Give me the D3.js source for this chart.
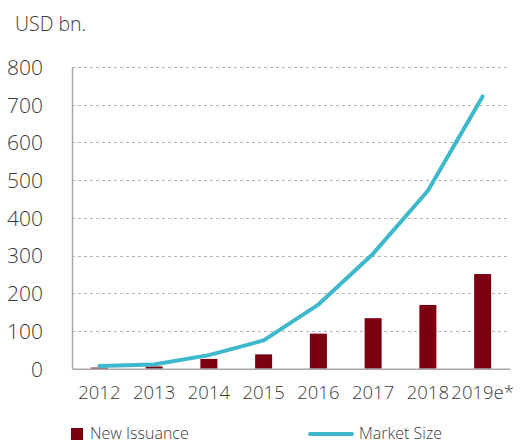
<!DOCTYPE html>
<html>
<head>
<meta charset="utf-8">
<script src="https://cdn.jsdelivr.net/npm/d3@7"></script>
<style>
  body { margin: 0; background: #fff; }
  svg text { font-family: "Open Sans", sans-serif; font-weight: 300; fill: #3a3a3a; }
</style>
</head>
<body>
<div id="chart"></div>
<script>
const years = ["2012", "2013", "2014", "2015", "2016", "2017", "2018", "2019e*"];
const newIssuance = [3, 6, 26, 38, 93, 134, 169, 251];
const marketSize = [7, 11, 36, 75, 170, 305, 472, 722];
const yTicks = [0, 100, 200, 300, 400, 500, 600, 700, 800];

const width = 520, height = 443;
const margin = { top: 67, right: 10, bottom: 74, left: 72 };

const svg = d3.select("#chart")
  .append("svg")
  .attr("width", width)
  .attr("height", height);

const x = d3.scaleBand()
  .domain(years)
  .range([margin.left, width - margin.right]);

const y = d3.scaleLinear()
  .domain([0, 800])
  .range([height - margin.bottom - 0.3, margin.top]);

// gridlines
svg.append("g")
  .selectAll("line")
  .data(yTicks.filter(d => d > 0))
  .join("line")
  .attr("x1", margin.left)
  .attr("x2", width - margin.right)
  .attr("y1", d => Math.round(y(d)) + 0.5)
  .attr("y2", d => Math.round(y(d)) + 0.5)
  .attr("stroke", "#b5b5b5")
  .attr("stroke-dasharray", "3,3");

// bars
const barW = 17;
svg.append("g")
  .selectAll("rect")
  .data(years)
  .join("rect")
  .attr("x", (d) => x(d) + x.bandwidth() / 2 - barW / 2)
  .attr("y", (d, i) => y(newIssuance[i]))
  .attr("width", barW)
  .attr("height", (d, i) => y(0) - y(newIssuance[i]))
  .attr("fill", "#7b0011");

// axes
const yAxis = d3.axisLeft(y).tickValues(yTicks).tickSize(0).tickPadding(29);
const gy = svg.append("g")
  .attr("transform", "translate(" + margin.left + ",0)")
  .call(yAxis);
gy.select(".domain").attr("stroke", "#a8a8a8").attr("stroke-width", 1.5);
gy.selectAll("text").style("font-size", "21px").attr("dy", "0.35em");

const xAxis = d3.axisBottom(x).tickSize(0).tickPadding(17);
const gx = svg.append("g")
  .attr("transform", "translate(0," + y(0) + ")")
  .call(xAxis);
gx.select(".domain").attr("stroke", "#a8a8a8").attr("stroke-width", 1.5);
gx.selectAll("text").style("font-size", "18.5px");

// market size line
const line = d3.line()
  .x((d, i) => x(years[i]) + x.bandwidth() / 2)
  .y(d => y(d));

svg.append("path")
  .datum(marketSize)
  .attr("d", line)
  .attr("fill", "none")
  .attr("stroke", "#3eb8cb")
  .attr("stroke-width", 4)
  .attr("stroke-linecap", "round")
  .attr("stroke-linejoin", "round");

// unit label
svg.append("text")
  .attr("x", 15)
  .attr("y", 31)
  .style("font-size", "19.5px")
  .text("USD bn.");

// legend
const legend = svg.append("g");
legend.append("rect")
  .attr("x", 71).attr("y", 428)
  .attr("width", 12).attr("height", 12)
  .attr("fill", "#7b0011");
legend.append("text")
  .attr("x", 90).attr("y", 439)
  .style("font-size", "16px")
  .text("New Issuance");
legend.append("line")
  .attr("x1", 310).attr("x2", 352)
  .attr("y1", 434).attr("y2", 434)
  .attr("stroke", "#3eb8cb")
  .attr("stroke-width", 4)
  .attr("stroke-linecap", "round");
legend.append("text")
  .attr("x", 359).attr("y", 439)
  .style("font-size", "16px")
  .text("Market Size");
</script>
</body>
</html>
